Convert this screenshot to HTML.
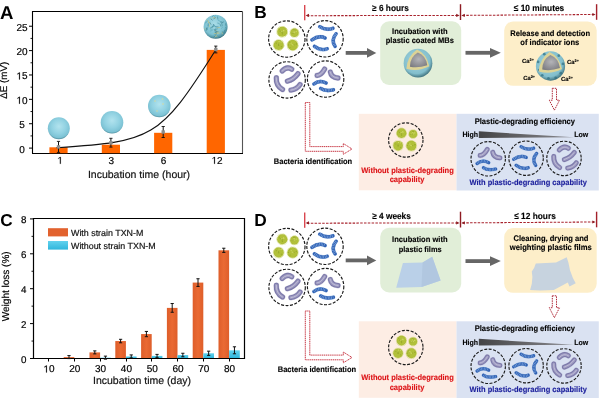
<!DOCTYPE html>
<html><head><meta charset="utf-8"><style>
html,body{margin:0;padding:0;background:#fff;width:600px;height:400px;overflow:hidden}
svg{display:block;will-change:transform}
text{font-family:"Liberation Sans", sans-serif;text-rendering:geometricPrecision}
</style></head><body>
<svg width="600" height="400" viewBox="0 0 600 400">

<defs>
 <radialGradient id="sph" cx="0.5" cy="0.42" r="0.58">
  <stop offset="0" stop-color="#b2e3ee"/>
  <stop offset="0.55" stop-color="#92d2e2"/>
  <stop offset="0.88" stop-color="#7cc2d4"/>
  <stop offset="1" stop-color="#4f8c9c"/>
 </radialGradient>
 <radialGradient id="sph12" cx="0.45" cy="0.38" r="0.64">
  <stop offset="0" stop-color="#a9dde8"/>
  <stop offset="0.7" stop-color="#7cc0d0"/>
  <stop offset="0.92" stop-color="#4a8a9a"/>
  <stop offset="1" stop-color="#2a5c68"/>
 </radialGradient>
 <radialGradient id="core" cx="0.5" cy="0.45" r="0.65">
  <stop offset="0" stop-color="#b4b4b8"/>
  <stop offset="1" stop-color="#7a7a80"/>
 </radialGradient>
 <radialGradient id="shell" cx="0.45" cy="0.4" r="0.62">
  <stop offset="0" stop-color="#a8d8e2"/>
  <stop offset="0.75" stop-color="#82becc"/>
  <stop offset="1" stop-color="#3a6c78"/>
 </radialGradient>
 <radialGradient id="coc" cx="0.5" cy="0.5" r="0.5">
  <stop offset="0" stop-color="#b0bf38"/>
  <stop offset="0.75" stop-color="#b2c13a"/>
  <stop offset="1" stop-color="#a9b834"/>
 </radialGradient>
 <linearGradient id="wedge" x1="0" y1="0" x2="1" y2="0">
  <stop offset="0" stop-color="#444446"/>
  <stop offset="1" stop-color="#8a8a90"/>
 </linearGradient>
 <linearGradient id="cyan" x1="0" y1="0" x2="0" y2="1">
  <stop offset="0" stop-color="#62d2ee"/>
  <stop offset="1" stop-color="#2fb6dc"/>
 </linearGradient>
 <linearGradient id="org" x1="0" y1="0" x2="1" y2="0">
  <stop offset="0" stop-color="#de5e2a"/>
  <stop offset="0.5" stop-color="#ea6a33"/>
  <stop offset="1" stop-color="#de5e2a"/>
 </linearGradient>
</defs>

<rect width="600" height="400" fill="#fff"/>
<text x="0" y="18.7" font-size="18.6" font-weight="bold" fill="#000" text-anchor="start" >A</text><path d="M32.5,153.5 L32.5,11.5 L242.5,11.5" fill="none" stroke="#000" stroke-width="1.1"/><path d="M242.5,11.5 L242.5,153.5" fill="none" stroke="#555" stroke-width="1.1"/><path d="M32,153.5 L243,153.5" stroke="#000" stroke-width="1.2"/><line x1="29" y1="148.1" x2="32.5" y2="148.1" stroke="#000" stroke-width="1"/><text x="22" y="152.5" font-size="10" font-weight="normal" fill="#000" text-anchor="middle" stroke="#000" stroke-width="0.18" >0</text><line x1="29" y1="123.72" x2="32.5" y2="123.72" stroke="#000" stroke-width="1"/><text x="22" y="128.12" font-size="10" font-weight="normal" fill="#000" text-anchor="middle" stroke="#000" stroke-width="0.18" >5</text><line x1="29" y1="99.35" x2="32.5" y2="99.35" stroke="#000" stroke-width="1"/><text x="22" y="103.75" font-size="10" font-weight="normal" fill="#000" text-anchor="middle" stroke="#000" stroke-width="0.18" >&#8199;0</text><path transform="translate(16.44,103.75) scale(0.00488,-0.00488)" d="M530,0 H696 V1409 H540 Q470,1290 197,1150 V1010 Q400,1100 530,1220 Z" fill="#000" stroke="#000" stroke-width="37"/><line x1="29" y1="74.97" x2="32.5" y2="74.97" stroke="#000" stroke-width="1"/><text x="22" y="79.38" font-size="10" font-weight="normal" fill="#000" text-anchor="middle" stroke="#000" stroke-width="0.18" >&#8199;5</text><path transform="translate(16.44,79.38) scale(0.00488,-0.00488)" d="M530,0 H696 V1409 H540 Q470,1290 197,1150 V1010 Q400,1100 530,1220 Z" fill="#000" stroke="#000" stroke-width="37"/><line x1="29" y1="50.6" x2="32.5" y2="50.6" stroke="#000" stroke-width="1"/><text x="22" y="55" font-size="10" font-weight="normal" fill="#000" text-anchor="middle" stroke="#000" stroke-width="0.18" >20</text><line x1="29" y1="26.22" x2="32.5" y2="26.22" stroke="#000" stroke-width="1"/><text x="22" y="30.62" font-size="10" font-weight="normal" fill="#000" text-anchor="middle" stroke="#000" stroke-width="0.18" >25</text><line x1="30.5" y1="135.91" x2="32.5" y2="135.91" stroke="#000" stroke-width="0.9"/><line x1="30.5" y1="111.54" x2="32.5" y2="111.54" stroke="#000" stroke-width="0.9"/><line x1="30.5" y1="87.16" x2="32.5" y2="87.16" stroke="#000" stroke-width="0.9"/><line x1="30.5" y1="62.79" x2="32.5" y2="62.79" stroke="#000" stroke-width="0.9"/><line x1="30.5" y1="38.41" x2="32.5" y2="38.41" stroke="#000" stroke-width="0.9"/><rect x="49.4" y="147.3" width="18.2" height="5.9" fill="#ff6600"/><text x="60.1" y="163.8" font-size="10" font-weight="normal" fill="#000" text-anchor="middle" stroke="#000" stroke-width="0.18" >&#8199;</text><path transform="translate(57.32,163.8) scale(0.00488,-0.00488)" d="M530,0 H696 V1409 H540 Q470,1290 197,1150 V1010 Q400,1100 530,1220 Z" fill="#000" stroke="#000" stroke-width="37"/><rect x="101.8" y="144.7" width="18.2" height="8.5" fill="#ff6600"/><text x="111.2" y="163.8" font-size="10" font-weight="normal" fill="#000" text-anchor="middle" stroke="#000" stroke-width="0.18" >3</text><rect x="154.1" y="132.8" width="18.2" height="20.4" fill="#ff6600"/><text x="163.5" y="163.8" font-size="10" font-weight="normal" fill="#000" text-anchor="middle" stroke="#000" stroke-width="0.18" >6</text><rect x="206.7" y="49.9" width="18.2" height="103.3" fill="#ff6600"/><text x="217.1" y="163.8" font-size="10" font-weight="normal" fill="#000" text-anchor="middle" stroke="#000" stroke-width="0.18" >&#8199;2</text><path transform="translate(211.54,163.8) scale(0.00488,-0.00488)" d="M530,0 H696 V1409 H540 Q470,1290 197,1150 V1010 Q400,1100 530,1220 Z" fill="#000" stroke="#000" stroke-width="37"/><text x="139" y="177.7" font-size="10.5" font-weight="normal" fill="#111" text-anchor="middle" stroke="#111" stroke-width="0.18" >Incubation time (hour)</text><text x="0" y="0" font-size="9.8" font-weight="normal" fill="#000" text-anchor="middle" stroke="#000" stroke-width="0.18" transform="translate(7.1,80.3) rotate(-90)">&#916;E (mV)</text><line x1="58.5" y1="141.4" x2="58.5" y2="152.4" stroke="#111" stroke-width="1"/><line x1="56.9" y1="141.4" x2="60.1" y2="141.4" stroke="#111" stroke-width="0.9"/><line x1="56.9" y1="152.4" x2="60.1" y2="152.4" stroke="#111" stroke-width="0.9"/><line x1="110.9" y1="138.3" x2="110.9" y2="147.1" stroke="#111" stroke-width="1"/><line x1="109.3" y1="138.3" x2="112.5" y2="138.3" stroke="#111" stroke-width="0.9"/><line x1="109.3" y1="147.1" x2="112.5" y2="147.1" stroke="#111" stroke-width="0.9"/><line x1="163.2" y1="126.5" x2="163.2" y2="137.5" stroke="#111" stroke-width="1"/><line x1="161.6" y1="126.5" x2="164.8" y2="126.5" stroke="#111" stroke-width="0.9"/><line x1="161.6" y1="137.5" x2="164.8" y2="137.5" stroke="#111" stroke-width="0.9"/><line x1="215.8" y1="46.1" x2="215.8" y2="52.9" stroke="#111" stroke-width="1"/><line x1="214.2" y1="46.1" x2="217.4" y2="46.1" stroke="#111" stroke-width="0.9"/><line x1="214.2" y1="52.9" x2="217.4" y2="52.9" stroke="#111" stroke-width="0.9"/><path d="M56.5,147.79 C152.09,141.37 159.14,139.8 216,49.5" fill="none" stroke="#111" stroke-width="1.15"/><rect x="56.8" y="145.2" width="3.4" height="3.4" fill="#8c8c8c"/><rect x="109.2" y="141" width="3.4" height="3.4" fill="#8c8c8c"/><rect x="161.5" y="130.3" width="3.4" height="3.4" fill="#8c8c8c"/><rect x="214.1" y="47.8" width="3.4" height="3.4" fill="#8c8c8c"/><circle cx="58.8" cy="128.2" r="11" fill="url(#sph)"/><circle cx="112" cy="122.3" r="11.3" fill="url(#sph)"/><circle cx="159.3" cy="106" r="11.3" fill="url(#sph)"/><circle cx="155" cy="101" r="0.7" fill="#e6d98a"/><circle cx="163" cy="104" r="0.7" fill="#e6d98a"/><circle cx="157" cy="111" r="0.7" fill="#e6d98a"/><circle cx="162.5" cy="99" r="0.7" fill="#e6d98a"/><circle cx="215.6" cy="26.8" r="12" fill="url(#sph12)"/><clipPath id="c12"><circle cx="215.6" cy="26.8" r="11.6"/></clipPath><g clip-path="url(#c12)" fill="none" stroke-linecap="round"><path d="M211.7,19.1 l-0.8,-1.1" stroke="#c9c27e" stroke-width="0.6"/><path d="M206.7,28.6 l1.3,-0.9" stroke="#4a97a8" stroke-width="0.6"/><path d="M214.1,17.3 l1.7,1.1" stroke="#c9c27e" stroke-width="0.6"/><path d="M207.3,20.7 l-2.0,-2.1" stroke="#c9c27e" stroke-width="0.6"/><path d="M217.5,16.9 l0.4,2.2" stroke="#3d8494" stroke-width="0.6"/><path d="M211.0,19.0 l1.3,1.2" stroke="#3d8494" stroke-width="0.6"/><path d="M206.9,28.4 l0.5,1.3" stroke="#4a97a8" stroke-width="0.6"/><path d="M217.0,29.4 l-2.2,0.1" stroke="#5aa8b8" stroke-width="0.6"/><path d="M214.8,36.1 l-1.1,1.3" stroke="#3d8494" stroke-width="0.6"/><path d="M220.0,21.2 l-1.9,-1.0" stroke="#5aa8b8" stroke-width="0.6"/><path d="M220.6,22.1 l1.4,-0.2" stroke="#3a7f90" stroke-width="0.6"/><path d="M208.2,23.3 l1.8,-0.8" stroke="#4a97a8" stroke-width="0.6"/><path d="M221.4,28.4 l1.2,-1.2" stroke="#5aa8b8" stroke-width="0.6"/><path d="M217.7,28.6 l-2.6,0.7" stroke="#5aa8b8" stroke-width="0.6"/><path d="M215.0,30.4 l2.3,0.9" stroke="#c9c27e" stroke-width="0.6"/><path d="M210.9,24.3 l-0.6,-1.1" stroke="#3a7f90" stroke-width="0.6"/><path d="M212.4,29.2 l-1.6,0.1" stroke="#5aa8b8" stroke-width="0.6"/><path d="M207.4,21.2 l-2.1,1.8" stroke="#4a97a8" stroke-width="0.6"/><path d="M208.3,24.6 l-0.3,1.4" stroke="#3a7f90" stroke-width="0.6"/><path d="M223.6,21.9 l-1.6,0.9" stroke="#3a7f90" stroke-width="0.6"/><path d="M208.5,20.9 l0.2,2.1" stroke="#c9c27e" stroke-width="0.6"/><path d="M208.6,22.0 l1.3,1.7" stroke="#c9c27e" stroke-width="0.6"/><path d="M217.1,36.8 l-0.8,-2.0" stroke="#c9c27e" stroke-width="0.6"/><path d="M219.0,32.1 l-2.7,0.7" stroke="#c9c27e" stroke-width="0.6"/><path d="M213.2,24.6 l1.9,1.4" stroke="#4a97a8" stroke-width="0.6"/><path d="M214.3,18.2 l-1.1,-0.8" stroke="#c9c27e" stroke-width="0.6"/><path d="M212.6,16.4 l1.6,-1.6" stroke="#3d8494" stroke-width="0.6"/><path d="M218.6,36.8 l-1.6,-1.2" stroke="#4a97a8" stroke-width="0.6"/><path d="M214.9,26.4 l1.2,0.7" stroke="#5aa8b8" stroke-width="0.6"/><path d="M220.9,26.3 l-0.8,-2.0" stroke="#3d8494" stroke-width="0.6"/><path d="M225.5,27.4 l1.3,1.7" stroke="#4a97a8" stroke-width="0.6"/><path d="M221.3,22.4 l-0.9,-1.1" stroke="#5aa8b8" stroke-width="0.6"/><path d="M216.0,35.8 l-1.0,1.3" stroke="#c9c27e" stroke-width="0.6"/><path d="M221.7,23.1 l0.5,2.6" stroke="#3d8494" stroke-width="0.6"/><path d="M222.3,33.8 l-0.1,-1.6" stroke="#c9c27e" stroke-width="0.6"/><path d="M215.4,31.9 l2.6,-0.2" stroke="#3a7f90" stroke-width="0.6"/><path d="M210.3,31.0 l1.9,-0.5" stroke="#5aa8b8" stroke-width="0.6"/><path d="M225.6,23.8 l0.3,1.6" stroke="#3d8494" stroke-width="0.6"/><path d="M212.0,26.4 l2.3,-0.2" stroke="#4a97a8" stroke-width="0.6"/><path d="M215.1,30.2 l0.4,-1.3" stroke="#4a97a8" stroke-width="0.6"/><path d="M224.6,33.0 l-0.0,-2.1" stroke="#3d8494" stroke-width="0.6"/><path d="M214.1,29.8 l2.5,1.5" stroke="#3a7f90" stroke-width="0.6"/><path d="M214.8,32.2 l1.3,0.8" stroke="#3d8494" stroke-width="0.6"/><path d="M205.2,28.8 l-2.3,0.5" stroke="#c9c27e" stroke-width="0.6"/><path d="M219.1,23.5 l-1.4,-0.4" stroke="#4a97a8" stroke-width="0.6"/><path d="M222.2,31.8 l2.0,1.5" stroke="#3d8494" stroke-width="0.6"/><path d="M214.1,35.0 l0.7,-1.4" stroke="#5aa8b8" stroke-width="0.6"/><path d="M209.3,26.8 l0.1,-1.8" stroke="#c9c27e" stroke-width="0.6"/><path d="M213.8,18.7 l1.5,-1.0" stroke="#3a7f90" stroke-width="0.6"/><path d="M219.2,33.7 l-2.7,-0.3" stroke="#c9c27e" stroke-width="0.6"/><path d="M215.8,35.0 l0.4,-2.3" stroke="#3d8494" stroke-width="0.6"/><path d="M208.4,26.2 l-0.3,-2.2" stroke="#5aa8b8" stroke-width="0.6"/><path d="M219.6,27.5 l-2.6,0.3" stroke="#c9c27e" stroke-width="0.6"/><path d="M214.5,16.4 l1.0,-0.8" stroke="#5aa8b8" stroke-width="0.6"/><path d="M218.1,26.9 l-2.4,-0.2" stroke="#3a7f90" stroke-width="0.6"/><path d="M215.8,33.6 l-1.6,-0.1" stroke="#c9c27e" stroke-width="0.6"/><path d="M210.3,28.1 l2.5,-1.0" stroke="#3d8494" stroke-width="0.6"/><path d="M213.8,24.4 l-1.0,2.2" stroke="#3a7f90" stroke-width="0.6"/><path d="M206.2,30.5 l0.6,-2.8" stroke="#3d8494" stroke-width="0.6"/><path d="M225.3,30.0 l-1.1,1.2" stroke="#3d8494" stroke-width="0.6"/></g><text x="0.3" y="225.6" font-size="17.2" font-weight="bold" fill="#000" text-anchor="start" >C</text><path d="M33.5,358.5 L33.5,218.5 L244.5,218.5 L244.5,358.5 Z" fill="none" stroke="#000" stroke-width="1.2"/><line x1="30" y1="358.5" x2="33.5" y2="358.5" stroke="#000" stroke-width="1"/><text x="23.8" y="362.8" font-size="9.8" font-weight="normal" fill="#000" text-anchor="middle" stroke="#000" stroke-width="0.18" >0</text><line x1="30" y1="323.6" x2="33.5" y2="323.6" stroke="#000" stroke-width="1"/><text x="23.8" y="327.9" font-size="9.8" font-weight="normal" fill="#000" text-anchor="middle" stroke="#000" stroke-width="0.18" >2</text><line x1="30" y1="288.7" x2="33.5" y2="288.7" stroke="#000" stroke-width="1"/><text x="23.8" y="293" font-size="9.8" font-weight="normal" fill="#000" text-anchor="middle" stroke="#000" stroke-width="0.18" >4</text><line x1="30" y1="253.8" x2="33.5" y2="253.8" stroke="#000" stroke-width="1"/><text x="23.8" y="258.1" font-size="9.8" font-weight="normal" fill="#000" text-anchor="middle" stroke="#000" stroke-width="0.18" >6</text><line x1="30" y1="218.9" x2="33.5" y2="218.9" stroke="#000" stroke-width="1"/><text x="23.8" y="223.2" font-size="9.8" font-weight="normal" fill="#000" text-anchor="middle" stroke="#000" stroke-width="0.18" >8</text><line x1="31.5" y1="341.05" x2="33.5" y2="341.05" stroke="#000" stroke-width="0.9"/><line x1="31.5" y1="306.15" x2="33.5" y2="306.15" stroke="#000" stroke-width="0.9"/><line x1="31.5" y1="271.25" x2="33.5" y2="271.25" stroke="#000" stroke-width="0.9"/><line x1="31.5" y1="236.35" x2="33.5" y2="236.35" stroke="#000" stroke-width="0.9"/><line x1="48.5" y1="358.5" x2="48.5" y2="361.5" stroke="#000" stroke-width="1"/><text x="49" y="372.4" font-size="10" font-weight="normal" fill="#000" text-anchor="middle" stroke="#000" stroke-width="0.18" >&#8199;0</text><path transform="translate(43.44,372.4) scale(0.00488,-0.00488)" d="M530,0 H696 V1409 H540 Q470,1290 197,1150 V1010 Q400,1100 530,1220 Z" fill="#000" stroke="#000" stroke-width="37"/><line x1="74.5" y1="358.5" x2="74.5" y2="361.5" stroke="#000" stroke-width="1"/><text x="74.8" y="372.4" font-size="10" font-weight="normal" fill="#000" text-anchor="middle" stroke="#000" stroke-width="0.18" >20</text><rect x="63.7" y="357.1" width="10.6" height="0.9" fill="url(#org)"/><line x1="100.5" y1="358.5" x2="100.5" y2="361.5" stroke="#000" stroke-width="1"/><text x="100.6" y="372.4" font-size="10" font-weight="normal" fill="#000" text-anchor="middle" stroke="#000" stroke-width="0.18" >30</text><rect x="89.5" y="352.39" width="10.6" height="5.61" fill="url(#org)"/><rect x="100.1" y="357.63" width="10.7" height="0.37" fill="url(#cyan)"/><line x1="126.5" y1="358.5" x2="126.5" y2="361.5" stroke="#000" stroke-width="1"/><text x="126.4" y="372.4" font-size="10" font-weight="normal" fill="#000" text-anchor="middle" stroke="#000" stroke-width="0.18" >40</text><rect x="115.3" y="341.05" width="10.6" height="16.95" fill="url(#org)"/><rect x="125.9" y="356.41" width="10.7" height="1.59" fill="url(#cyan)"/><line x1="151.5" y1="358.5" x2="151.5" y2="361.5" stroke="#000" stroke-width="1"/><text x="152.2" y="372.4" font-size="10" font-weight="normal" fill="#000" text-anchor="middle" stroke="#000" stroke-width="0.18" >50</text><rect x="141.1" y="334.07" width="10.6" height="23.93" fill="url(#org)"/><rect x="151.7" y="355.88" width="10.7" height="2.12" fill="url(#cyan)"/><line x1="177.5" y1="358.5" x2="177.5" y2="361.5" stroke="#000" stroke-width="1"/><text x="178" y="372.4" font-size="10" font-weight="normal" fill="#000" text-anchor="middle" stroke="#000" stroke-width="0.18" >60</text><rect x="166.9" y="307.89" width="10.6" height="50.11" fill="url(#org)"/><rect x="177.5" y="355.01" width="10.7" height="2.99" fill="url(#cyan)"/><line x1="203.5" y1="358.5" x2="203.5" y2="361.5" stroke="#000" stroke-width="1"/><text x="203.8" y="372.4" font-size="10" font-weight="normal" fill="#000" text-anchor="middle" stroke="#000" stroke-width="0.18" >70</text><rect x="192.7" y="282.59" width="10.6" height="75.41" fill="url(#org)"/><rect x="203.3" y="353.26" width="10.7" height="4.74" fill="url(#cyan)"/><line x1="229.5" y1="358.5" x2="229.5" y2="361.5" stroke="#000" stroke-width="1"/><text x="229.6" y="372.4" font-size="10" font-weight="normal" fill="#000" text-anchor="middle" stroke="#000" stroke-width="0.18" >80</text><rect x="218.5" y="250.31" width="10.6" height="107.69" fill="url(#org)"/><rect x="229.1" y="350.3" width="10.7" height="7.7" fill="url(#cyan)"/><line x1="69" y1="355.6" x2="69" y2="358.6" stroke="#111" stroke-width="1"/><line x1="67.4" y1="355.6" x2="70.6" y2="355.6" stroke="#111" stroke-width="1"/><line x1="67.4" y1="358.6" x2="70.6" y2="358.6" stroke="#111" stroke-width="1"/><line x1="94.8" y1="350.89" x2="94.8" y2="353.89" stroke="#111" stroke-width="1"/><line x1="93.2" y1="350.89" x2="96.4" y2="350.89" stroke="#111" stroke-width="1"/><line x1="93.2" y1="353.89" x2="96.4" y2="353.89" stroke="#111" stroke-width="1"/><line x1="105.45" y1="356.13" x2="105.45" y2="359.13" stroke="#111" stroke-width="1"/><line x1="103.85" y1="356.13" x2="107.05" y2="356.13" stroke="#111" stroke-width="1"/><line x1="103.85" y1="359.13" x2="107.05" y2="359.13" stroke="#111" stroke-width="1"/><line x1="120.6" y1="339.31" x2="120.6" y2="342.8" stroke="#111" stroke-width="1"/><line x1="119" y1="339.31" x2="122.2" y2="339.31" stroke="#111" stroke-width="1"/><line x1="119" y1="342.8" x2="122.2" y2="342.8" stroke="#111" stroke-width="1"/><line x1="131.25" y1="354.91" x2="131.25" y2="357.91" stroke="#111" stroke-width="1"/><line x1="129.65" y1="354.91" x2="132.85" y2="354.91" stroke="#111" stroke-width="1"/><line x1="129.65" y1="357.91" x2="132.85" y2="357.91" stroke="#111" stroke-width="1"/><line x1="146.4" y1="331.45" x2="146.4" y2="336.69" stroke="#111" stroke-width="1"/><line x1="144.8" y1="331.45" x2="148" y2="331.45" stroke="#111" stroke-width="1"/><line x1="144.8" y1="336.69" x2="148" y2="336.69" stroke="#111" stroke-width="1"/><line x1="157.05" y1="354.38" x2="157.05" y2="357.38" stroke="#111" stroke-width="1"/><line x1="155.45" y1="354.38" x2="158.65" y2="354.38" stroke="#111" stroke-width="1"/><line x1="155.45" y1="357.38" x2="158.65" y2="357.38" stroke="#111" stroke-width="1"/><line x1="172.2" y1="303.53" x2="172.2" y2="312.26" stroke="#111" stroke-width="1"/><line x1="170.6" y1="303.53" x2="173.8" y2="303.53" stroke="#111" stroke-width="1"/><line x1="170.6" y1="312.26" x2="173.8" y2="312.26" stroke="#111" stroke-width="1"/><line x1="182.85" y1="353.26" x2="182.85" y2="356.75" stroke="#111" stroke-width="1"/><line x1="181.25" y1="353.26" x2="184.45" y2="353.26" stroke="#111" stroke-width="1"/><line x1="181.25" y1="356.75" x2="184.45" y2="356.75" stroke="#111" stroke-width="1"/><line x1="198" y1="278.75" x2="198" y2="286.43" stroke="#111" stroke-width="1"/><line x1="196.4" y1="278.75" x2="199.6" y2="278.75" stroke="#111" stroke-width="1"/><line x1="196.4" y1="286.43" x2="199.6" y2="286.43" stroke="#111" stroke-width="1"/><line x1="208.65" y1="351.17" x2="208.65" y2="355.36" stroke="#111" stroke-width="1"/><line x1="207.05" y1="351.17" x2="210.25" y2="351.17" stroke="#111" stroke-width="1"/><line x1="207.05" y1="355.36" x2="210.25" y2="355.36" stroke="#111" stroke-width="1"/><line x1="223.8" y1="248.22" x2="223.8" y2="252.4" stroke="#111" stroke-width="1"/><line x1="222.2" y1="248.22" x2="225.4" y2="248.22" stroke="#111" stroke-width="1"/><line x1="222.2" y1="252.4" x2="225.4" y2="252.4" stroke="#111" stroke-width="1"/><line x1="234.45" y1="346.81" x2="234.45" y2="353.79" stroke="#111" stroke-width="1"/><line x1="232.85" y1="346.81" x2="236.05" y2="346.81" stroke="#111" stroke-width="1"/><line x1="232.85" y1="353.79" x2="236.05" y2="353.79" stroke="#111" stroke-width="1"/><rect x="48" y="228.2" width="20" height="8.2" fill="#e2622e"/><rect x="48" y="241" width="20" height="8.6" fill="url(#cyan)"/><text x="71" y="236" font-size="8.9" font-weight="normal" fill="#111" text-anchor="start" stroke="#111" stroke-width="0.18" >With strain TXN-M</text><text x="71" y="248.6" font-size="8.9" font-weight="normal" fill="#111" text-anchor="start" stroke="#111" stroke-width="0.18" >Without strain TXN-M</text><text x="142" y="383.8" font-size="10.5" font-weight="normal" fill="#111" text-anchor="middle" stroke="#111" stroke-width="0.18" >Incubation time (day)</text><text x="0" y="0" font-size="10" font-weight="normal" fill="#000" text-anchor="middle" stroke="#000" stroke-width="0.18" transform="translate(9.1,286.3) rotate(-90)">Weight loss (%)</text><text x="254.3" y="18.3" font-size="17.3" font-weight="bold" fill="#000" text-anchor="start" >B</text><rect x="304" y="5" width="1.4" height="15.3" fill="#d9464f"/><rect x="459.8" y="4.2" width="1.4" height="15.8" fill="#8e1b22"/><rect x="595.9" y="4.2" width="1.4" height="15.6" fill="#a3212b"/><line x1="307" y1="15.7" x2="458" y2="15.4" stroke="#a8222c" stroke-width="1.05" stroke-dasharray="2.5 1.3"/><line x1="462.5" y1="15.4" x2="594" y2="14.5" stroke="#a8222c" stroke-width="1.05" stroke-dasharray="2.5 1.3"/><path d="M305.6,15.4 L309,13.8 L309,17 Z" fill="#8e1b22"/><path d="M459.6,15.4 L456.2,13.8 L456.2,17 Z" fill="#8e1b22"/><path d="M461.4,15.4 L464.8,13.8 L464.8,17 Z" fill="#8e1b22"/><path d="M595.6,14.5 L592.4,13.1 L592.4,15.9 Z" fill="#8e1b22"/><text transform="translate(390.5,10.8) scale(1,1.07)" font-size="8.3" font-weight="bold" fill="#000" text-anchor="middle" stroke="#000" stroke-width="0.12">&#8805; 6 hours</text><text transform="translate(539,11) scale(1,1.07)" font-size="8.35" font-weight="bold" fill="#000" text-anchor="middle" stroke="#000" stroke-width="0.12">&#8804; 10 minutes</text><g transform="translate(286.8,39)"><circle r="18.2" fill="none" stroke="#1a1a1a" stroke-width="1.15" stroke-dasharray="3 1.5"/><g transform="scale(0.99)"><circle cx="-4.6" cy="-7.3" r="5.3" fill="none" stroke="#cbd56a" stroke-width="1.3" stroke-dasharray="0.6 0.6"/><circle cx="-4.6" cy="-7.3" r="5.1" fill="url(#coc)"/><circle cx="-4.43" cy="-5.13" r="0.6" fill="#98a82c"/><circle cx="-2.96" cy="-8.26" r="0.6" fill="#d2dc6e"/><circle cx="-7.47" cy="-9.53" r="0.6" fill="#98a82c"/><circle cx="-4.65" cy="-6.36" r="0.6" fill="#98a82c"/><circle cx="-6.73" cy="-7.86" r="0.6" fill="#98a82c"/><circle cx="-4.99" cy="-7.76" r="0.6" fill="#d2dc6e"/><circle cx="-3.19" cy="-8.85" r="0.6" fill="#d2dc6e"/><circle cx="-4.72" cy="-7.53" r="0.6" fill="#d2dc6e"/><circle cx="-4.64" cy="-7.18" r="0.6" fill="#98a82c"/><circle cx="7.7" cy="-6.3" r="4.5" fill="none" stroke="#cbd56a" stroke-width="1.3" stroke-dasharray="0.6 0.6"/><circle cx="7.7" cy="-6.3" r="4.3" fill="url(#coc)"/><circle cx="5.43" cy="-5.9" r="0.6" fill="#98a82c"/><circle cx="7.03" cy="-9.17" r="0.6" fill="#98a82c"/><circle cx="7.44" cy="-8.13" r="0.6" fill="#d2dc6e"/><circle cx="7.93" cy="-6.52" r="0.6" fill="#d2dc6e"/><circle cx="6.87" cy="-6.27" r="0.6" fill="#98a82c"/><circle cx="8.19" cy="-8.99" r="0.6" fill="#98a82c"/><circle cx="6.47" cy="-6.35" r="0.6" fill="#98a82c"/><circle cx="6.43" cy="-6.58" r="0.6" fill="#d2dc6e"/><circle cx="9.5" cy="-7.54" r="0.6" fill="#d2dc6e"/><circle cx="-8.2" cy="6.1" r="5.3" fill="none" stroke="#cbd56a" stroke-width="1.3" stroke-dasharray="0.6 0.6"/><circle cx="-8.2" cy="6.1" r="5.1" fill="url(#coc)"/><circle cx="-5.75" cy="2.98" r="0.6" fill="#d2dc6e"/><circle cx="-8.62" cy="4.86" r="0.6" fill="#d2dc6e"/><circle cx="-8.39" cy="5.28" r="0.6" fill="#98a82c"/><circle cx="-8.26" cy="6.35" r="0.6" fill="#98a82c"/><circle cx="-5.48" cy="7.79" r="0.6" fill="#98a82c"/><circle cx="-8.14" cy="6.05" r="0.6" fill="#98a82c"/><circle cx="-7.8" cy="2.63" r="0.6" fill="#d2dc6e"/><circle cx="-10.61" cy="4.24" r="0.6" fill="#98a82c"/><circle cx="-8.46" cy="4.8" r="0.6" fill="#98a82c"/><circle cx="5.9" cy="6.1" r="5.5" fill="none" stroke="#cbd56a" stroke-width="1.3" stroke-dasharray="0.6 0.6"/><circle cx="5.9" cy="6.1" r="5.3" fill="url(#coc)"/><circle cx="1.71" cy="5.96" r="0.6" fill="#98a82c"/><circle cx="6.35" cy="6.12" r="0.6" fill="#d2dc6e"/><circle cx="9.77" cy="4.8" r="0.6" fill="#98a82c"/><circle cx="5.39" cy="5.68" r="0.6" fill="#d2dc6e"/><circle cx="7.32" cy="5.92" r="0.6" fill="#98a82c"/><circle cx="9.54" cy="5.12" r="0.6" fill="#98a82c"/><circle cx="3.29" cy="8.66" r="0.6" fill="#98a82c"/><circle cx="4.35" cy="4.14" r="0.6" fill="#d2dc6e"/><circle cx="3.02" cy="3.4" r="0.6" fill="#98a82c"/></g></g><g transform="translate(325,38.8)"><circle r="18.2" fill="none" stroke="#1a1a1a" stroke-width="1.15" stroke-dasharray="3 1.5"/><g transform="scale(0.99)"><path d="M-5.3,-12.2 Q0.7,-7.95 8,-10.6" fill="none" stroke="#6a9ad8" stroke-width="4" stroke-linecap="round" opacity="0.4"/><path d="M-5.3,-12.2 Q0.7,-7.95 8,-10.6" fill="none" stroke="#2f60b2" stroke-width="3.4" stroke-linecap="round"/><path d="M-5.3,-12.2 Q0.7,-7.95 8,-10.6" fill="none" stroke="#7aa3dd" stroke-width="2.8" stroke-dasharray="0.7 0.9"/><path d="M-13.2,1.1 Q-6,-3.95 0.1,-0.8" fill="none" stroke="#6a9ad8" stroke-width="4" stroke-linecap="round" opacity="0.4"/><path d="M-13.2,1.1 Q-6,-3.95 0.1,-0.8" fill="none" stroke="#2f60b2" stroke-width="3.4" stroke-linecap="round"/><path d="M-13.2,1.1 Q-6,-3.95 0.1,-0.8" fill="none" stroke="#7aa3dd" stroke-width="2.8" stroke-dasharray="0.7 0.9"/><path d="M11.2,-5.1 Q5.8,1.2 10.2,7.7" fill="none" stroke="#6a9ad8" stroke-width="4" stroke-linecap="round" opacity="0.4"/><path d="M11.2,-5.1 Q5.8,1.2 10.2,7.7" fill="none" stroke="#2f60b2" stroke-width="3.4" stroke-linecap="round"/><path d="M11.2,-5.1 Q5.8,1.2 10.2,7.7" fill="none" stroke="#7aa3dd" stroke-width="2.8" stroke-dasharray="0.7 0.9"/><path d="M-10.6,7.6 Q-4.25,12.55 2.2,10.1" fill="none" stroke="#6a9ad8" stroke-width="4" stroke-linecap="round" opacity="0.4"/><path d="M-10.6,7.6 Q-4.25,12.55 2.2,10.1" fill="none" stroke="#2f60b2" stroke-width="3.4" stroke-linecap="round"/><path d="M-10.6,7.6 Q-4.25,12.55 2.2,10.1" fill="none" stroke="#7aa3dd" stroke-width="2.8" stroke-dasharray="0.7 0.9"/></g></g><g transform="translate(287.1,79.9)"><circle r="18.2" fill="none" stroke="#1a1a1a" stroke-width="1.15" stroke-dasharray="3 1.5"/><g transform="scale(0.99)"><path d="M-5,-9 Q-0.05,-14.15 4.7,-10.8" fill="none" stroke="#9d9ac2" stroke-width="5.8" stroke-linecap="round" opacity="0.45"/><path d="M-5,-9 Q-0.05,-14.15 4.7,-10.8" fill="none" stroke="#7a77a8" stroke-width="5" stroke-linecap="round"/><path d="M-5,-9 Q-0.05,-14.15 4.7,-10.8" fill="none" stroke="#9c99c0" stroke-width="3" stroke-linecap="round"/><path d="M-5,-9 Q-0.05,-14.15 4.7,-10.8" fill="none" stroke="#c0bdd8" stroke-width="1" stroke-linecap="round"/><path d="M0.3,1.3 Q6.75,-0.5 11,-6.3" fill="none" stroke="#9d9ac2" stroke-width="5.8" stroke-linecap="round" opacity="0.45"/><path d="M0.3,1.3 Q6.75,-0.5 11,-6.3" fill="none" stroke="#7a77a8" stroke-width="5" stroke-linecap="round"/><path d="M0.3,1.3 Q6.75,-0.5 11,-6.3" fill="none" stroke="#9c99c0" stroke-width="3" stroke-linecap="round"/><path d="M0.3,1.3 Q6.75,-0.5 11,-6.3" fill="none" stroke="#c0bdd8" stroke-width="1" stroke-linecap="round"/><path d="M-10.9,-2.1 Q-11.45,5.8 -4.6,9.7" fill="none" stroke="#9d9ac2" stroke-width="5.8" stroke-linecap="round" opacity="0.45"/><path d="M-10.9,-2.1 Q-11.45,5.8 -4.6,9.7" fill="none" stroke="#7a77a8" stroke-width="5" stroke-linecap="round"/><path d="M-10.9,-2.1 Q-11.45,5.8 -4.6,9.7" fill="none" stroke="#9c99c0" stroke-width="3" stroke-linecap="round"/><path d="M-10.9,-2.1 Q-11.45,5.8 -4.6,9.7" fill="none" stroke="#c0bdd8" stroke-width="1" stroke-linecap="round"/><path d="M3.9,10.3 Q10.1,9.55 13.1,4.7" fill="none" stroke="#9d9ac2" stroke-width="5.8" stroke-linecap="round" opacity="0.45"/><path d="M3.9,10.3 Q10.1,9.55 13.1,4.7" fill="none" stroke="#7a77a8" stroke-width="5" stroke-linecap="round"/><path d="M3.9,10.3 Q10.1,9.55 13.1,4.7" fill="none" stroke="#9c99c0" stroke-width="3" stroke-linecap="round"/><path d="M3.9,10.3 Q10.1,9.55 13.1,4.7" fill="none" stroke="#c0bdd8" stroke-width="1" stroke-linecap="round"/></g></g><g transform="translate(325.6,79)"><circle r="18.2" fill="none" stroke="#1a1a1a" stroke-width="1.15" stroke-dasharray="3 1.5"/><g transform="scale(0.99)"><path d="M-8.6,-3.6 Q-4.6,-3.6 -1,-10" fill="none" stroke="#9d9ac2" stroke-width="5.8" stroke-linecap="round" opacity="0.45"/><path d="M-8.6,-3.6 Q-4.6,-3.6 -1,-10" fill="none" stroke="#7a77a8" stroke-width="5" stroke-linecap="round"/><path d="M-8.6,-3.6 Q-4.6,-3.6 -1,-10" fill="none" stroke="#9c99c0" stroke-width="3" stroke-linecap="round"/><path d="M-8.6,-3.6 Q-4.6,-3.6 -1,-10" fill="none" stroke="#c0bdd8" stroke-width="1" stroke-linecap="round"/><path d="M4.8,-7 Q5.8,-1.4 12.5,-1" fill="none" stroke="#9d9ac2" stroke-width="5.8" stroke-linecap="round" opacity="0.45"/><path d="M4.8,-7 Q5.8,-1.4 12.5,-1" fill="none" stroke="#7a77a8" stroke-width="5" stroke-linecap="round"/><path d="M4.8,-7 Q5.8,-1.4 12.5,-1" fill="none" stroke="#9c99c0" stroke-width="3" stroke-linecap="round"/><path d="M4.8,-7 Q5.8,-1.4 12.5,-1" fill="none" stroke="#c0bdd8" stroke-width="1" stroke-linecap="round"/><path d="M-11.8,5 Q-6.15,0.5 0.5,4.1" fill="none" stroke="#6a9ad8" stroke-width="4" stroke-linecap="round" opacity="0.4"/><path d="M-11.8,5 Q-6.15,0.5 0.5,4.1" fill="none" stroke="#2f60b2" stroke-width="3.4" stroke-linecap="round"/><path d="M-11.8,5 Q-6.15,0.5 0.5,4.1" fill="none" stroke="#7aa3dd" stroke-width="2.8" stroke-dasharray="0.7 0.9"/><path d="M-5,9.5 Q-0.65,12.8 7.9,10.9" fill="none" stroke="#6a9ad8" stroke-width="4" stroke-linecap="round" opacity="0.4"/><path d="M-5,9.5 Q-0.65,12.8 7.9,10.9" fill="none" stroke="#2f60b2" stroke-width="3.4" stroke-linecap="round"/><path d="M-5,9.5 Q-0.65,12.8 7.9,10.9" fill="none" stroke="#7aa3dd" stroke-width="2.8" stroke-dasharray="0.7 0.9"/></g></g><rect x="345.7" y="51" width="21.8" height="3.8" fill="#666"/><path d="M367,48 L376.3,52.9 L367,57.8 Z" fill="#666"/><rect x="465.5" y="50.9" width="25" height="3.8" fill="#666"/><path d="M490,47.9 L500.8,52.8 L490,57.7 Z" fill="#666"/><rect x="380.2" y="21.3" width="81" height="63.7" rx="9" fill="#e1eed8"/><rect x="504.2" y="21.5" width="92.5" height="64.3" rx="9" fill="#fdeec9"/><text transform="translate(419.8,34.3) scale(1,1.07)" font-size="7.57" font-weight="bold" fill="#000" text-anchor="middle" stroke="#000" stroke-width="0.12">Incubation with</text><text transform="translate(419.8,43) scale(1,1.07)" font-size="7.52" font-weight="bold" fill="#000" text-anchor="middle" stroke="#000" stroke-width="0.12">plastic coated MBs</text><g transform="translate(418,63.2) scale(1.01)"><circle r="14.2" fill="url(#shell)"/><path d="M-1,-13.6 Q8.5,-9.5 11.2,3 Q0,8.8 -11.5,5.4 Q-10.5,-7 -1,-13.6 Z" fill="#ddd396"/><path d="M-0.2,-10.6 Q8,-7.5 9.2,2 Q0,5.2 -8,3.4 Q-8,-6 -0.2,-10.6 Z" fill="url(#core)"/></g><text transform="translate(550.2,35.8) scale(1,1.07)" font-size="7.55" font-weight="bold" fill="#000" text-anchor="middle" stroke="#000" stroke-width="0.12">Release and detection</text><text transform="translate(549.8,45.4) scale(1,1.07)" font-size="7.6" font-weight="bold" fill="#000" text-anchor="middle" stroke="#000" stroke-width="0.12">of indicator ions</text><g transform="translate(550.5,66) scale(1.03)"><circle r="14.2" fill="url(#shell)"/><circle cx="-11" cy="4" r="1.3" fill="#2f6d80" opacity="0.7"/><circle cx="-8" cy="9" r="1.3" fill="#2f6d80" opacity="0.7"/><circle cx="-2" cy="12" r="1.3" fill="#2f6d80" opacity="0.7"/><circle cx="5" cy="11.5" r="1.3" fill="#2f6d80" opacity="0.7"/><circle cx="10" cy="7" r="1.3" fill="#2f6d80" opacity="0.7"/><circle cx="12" cy="-2" r="1.3" fill="#2f6d80" opacity="0.7"/><circle cx="-12" cy="-4" r="1.3" fill="#2f6d80" opacity="0.7"/><circle cx="8" cy="-10" r="1.3" fill="#2f6d80" opacity="0.7"/><circle cx="-6" cy="-11.5" r="1.3" fill="#2f6d80" opacity="0.7"/><path d="M-1,-13.6 Q8.5,-9.5 11.2,3 Q0,8.8 -11.5,5.4 Q-10.5,-7 -1,-13.6 Z" fill="#ddd396"/><path d="M-0.2,-10.6 Q8,-7.5 9.2,2 Q0,5.2 -8,3.4 Q-8,-6 -0.2,-10.6 Z" fill="url(#core)"/></g><text x="522" y="62.5" font-size="5.9" font-weight="bold" fill="#000" stroke="#000" stroke-width="0.12">Ca<tspan font-size="3.8" dy="-2">2+</tspan></text><text x="567" y="64.3" font-size="5.9" font-weight="bold" fill="#000" stroke="#000" stroke-width="0.12">Ca<tspan font-size="3.8" dy="-2">2+</tspan></text><text x="523.2" y="80" font-size="5.9" font-weight="bold" fill="#000" stroke="#000" stroke-width="0.12">Ca<tspan font-size="3.8" dy="-2">2+</tspan></text><text x="561" y="80.6" font-size="5.9" font-weight="bold" fill="#000" stroke="#000" stroke-width="0.12">Ca<tspan font-size="3.8" dy="-2">2+</tspan></text><path d="M552.3,88.3 L556.5,88.3 L556.5,100.2 L559.5,100.2 L554.4,110.2 L549.3,100.2 L552.3,100.2 Z" fill="none" stroke="#b02a38" stroke-width="1" stroke-dasharray="1.5 0.9"/><path d="M305.3,102.5 L309.8,102.5 L309.8,146.6 L343.3,146.6 L343.3,143.5 L352,149 L343.3,154.3 L343.3,151.3 L305.3,151.3 Z" fill="none" stroke="#c42c3a" stroke-width="0.95" stroke-dasharray="1.3 0.6"/><text transform="translate(313,163.6) scale(1,1.07)" font-size="7.5" font-weight="bold" fill="#000" text-anchor="middle" stroke="#000" stroke-width="0.12">Bacteria identification</text><rect x="358.8" y="113.8" width="97.7" height="76.5" fill="#fdede4"/><g transform="translate(405.8,140)"><circle r="17.2" fill="none" stroke="#1a1a1a" stroke-width="1.15" stroke-dasharray="3 1.5"/><g transform="scale(0.94)"><circle cx="-4.6" cy="-7.3" r="5.3" fill="none" stroke="#cbd56a" stroke-width="1.3" stroke-dasharray="0.6 0.6"/><circle cx="-4.6" cy="-7.3" r="5.1" fill="url(#coc)"/><circle cx="-4.43" cy="-5.13" r="0.6" fill="#98a82c"/><circle cx="-2.96" cy="-8.26" r="0.6" fill="#d2dc6e"/><circle cx="-7.47" cy="-9.53" r="0.6" fill="#98a82c"/><circle cx="-4.65" cy="-6.36" r="0.6" fill="#98a82c"/><circle cx="-6.73" cy="-7.86" r="0.6" fill="#98a82c"/><circle cx="-4.99" cy="-7.76" r="0.6" fill="#d2dc6e"/><circle cx="-3.19" cy="-8.85" r="0.6" fill="#d2dc6e"/><circle cx="-4.72" cy="-7.53" r="0.6" fill="#d2dc6e"/><circle cx="-4.64" cy="-7.18" r="0.6" fill="#98a82c"/><circle cx="7.7" cy="-6.3" r="4.5" fill="none" stroke="#cbd56a" stroke-width="1.3" stroke-dasharray="0.6 0.6"/><circle cx="7.7" cy="-6.3" r="4.3" fill="url(#coc)"/><circle cx="5.43" cy="-5.9" r="0.6" fill="#98a82c"/><circle cx="7.03" cy="-9.17" r="0.6" fill="#98a82c"/><circle cx="7.44" cy="-8.13" r="0.6" fill="#d2dc6e"/><circle cx="7.93" cy="-6.52" r="0.6" fill="#d2dc6e"/><circle cx="6.87" cy="-6.27" r="0.6" fill="#98a82c"/><circle cx="8.19" cy="-8.99" r="0.6" fill="#98a82c"/><circle cx="6.47" cy="-6.35" r="0.6" fill="#98a82c"/><circle cx="6.43" cy="-6.58" r="0.6" fill="#d2dc6e"/><circle cx="9.5" cy="-7.54" r="0.6" fill="#d2dc6e"/><circle cx="-8.2" cy="6.1" r="5.3" fill="none" stroke="#cbd56a" stroke-width="1.3" stroke-dasharray="0.6 0.6"/><circle cx="-8.2" cy="6.1" r="5.1" fill="url(#coc)"/><circle cx="-5.75" cy="2.98" r="0.6" fill="#d2dc6e"/><circle cx="-8.62" cy="4.86" r="0.6" fill="#d2dc6e"/><circle cx="-8.39" cy="5.28" r="0.6" fill="#98a82c"/><circle cx="-8.26" cy="6.35" r="0.6" fill="#98a82c"/><circle cx="-5.48" cy="7.79" r="0.6" fill="#98a82c"/><circle cx="-8.14" cy="6.05" r="0.6" fill="#98a82c"/><circle cx="-7.8" cy="2.63" r="0.6" fill="#d2dc6e"/><circle cx="-10.61" cy="4.24" r="0.6" fill="#98a82c"/><circle cx="-8.46" cy="4.8" r="0.6" fill="#98a82c"/><circle cx="5.9" cy="6.1" r="5.5" fill="none" stroke="#cbd56a" stroke-width="1.3" stroke-dasharray="0.6 0.6"/><circle cx="5.9" cy="6.1" r="5.3" fill="url(#coc)"/><circle cx="1.71" cy="5.96" r="0.6" fill="#98a82c"/><circle cx="6.35" cy="6.12" r="0.6" fill="#d2dc6e"/><circle cx="9.77" cy="4.8" r="0.6" fill="#98a82c"/><circle cx="5.39" cy="5.68" r="0.6" fill="#d2dc6e"/><circle cx="7.32" cy="5.92" r="0.6" fill="#98a82c"/><circle cx="9.54" cy="5.12" r="0.6" fill="#98a82c"/><circle cx="3.29" cy="8.66" r="0.6" fill="#98a82c"/><circle cx="4.35" cy="4.14" r="0.6" fill="#d2dc6e"/><circle cx="3.02" cy="3.4" r="0.6" fill="#98a82c"/></g></g><text transform="translate(407.5,172.5) scale(1,1.07)" font-size="7.5" font-weight="bold" fill="#dd1418" text-anchor="middle" stroke="#dd1418" stroke-width="0.12">Without plastic-degrading</text><text transform="translate(407,182) scale(1,1.07)" font-size="7.5" font-weight="bold" fill="#dd1418" text-anchor="middle" stroke="#dd1418" stroke-width="0.12">capability</text><rect x="456.5" y="113.8" width="142.3" height="76.7" fill="#dae2f2"/><text transform="translate(524.8,123.9) scale(1,1.07)" font-size="7.55" font-weight="bold" fill="#000" text-anchor="middle" stroke="#000" stroke-width="0.12">Plastic-degrading efficiency</text><text transform="translate(462.5,137) scale(1,1.07)" font-size="7" font-weight="bold" fill="#000" text-anchor="start" stroke="#000" stroke-width="0.12">High</text><text transform="translate(574.2,137) scale(1,1.07)" font-size="7" font-weight="bold" fill="#000" text-anchor="start" stroke="#000" stroke-width="0.12">Low</text><path d="M478.8,131.3 L574,137.3 L478.8,138 Z" fill="url(#wedge)"/><g transform="translate(488.2,158.8)"><circle r="17.2" fill="none" stroke="#1a1a1a" stroke-width="1.15" stroke-dasharray="3 1.5"/><g transform="scale(0.94)"><path d="M-8.6,-3.6 Q-4.6,-3.6 -1,-10" fill="none" stroke="#9d9ac2" stroke-width="5.8" stroke-linecap="round" opacity="0.45"/><path d="M-8.6,-3.6 Q-4.6,-3.6 -1,-10" fill="none" stroke="#7a77a8" stroke-width="5" stroke-linecap="round"/><path d="M-8.6,-3.6 Q-4.6,-3.6 -1,-10" fill="none" stroke="#9c99c0" stroke-width="3" stroke-linecap="round"/><path d="M-8.6,-3.6 Q-4.6,-3.6 -1,-10" fill="none" stroke="#c0bdd8" stroke-width="1" stroke-linecap="round"/><path d="M4.8,-7 Q5.8,-1.4 12.5,-1" fill="none" stroke="#9d9ac2" stroke-width="5.8" stroke-linecap="round" opacity="0.45"/><path d="M4.8,-7 Q5.8,-1.4 12.5,-1" fill="none" stroke="#7a77a8" stroke-width="5" stroke-linecap="round"/><path d="M4.8,-7 Q5.8,-1.4 12.5,-1" fill="none" stroke="#9c99c0" stroke-width="3" stroke-linecap="round"/><path d="M4.8,-7 Q5.8,-1.4 12.5,-1" fill="none" stroke="#c0bdd8" stroke-width="1" stroke-linecap="round"/><path d="M-11.8,5 Q-6.15,0.5 0.5,4.1" fill="none" stroke="#6a9ad8" stroke-width="4" stroke-linecap="round" opacity="0.4"/><path d="M-11.8,5 Q-6.15,0.5 0.5,4.1" fill="none" stroke="#2f60b2" stroke-width="3.4" stroke-linecap="round"/><path d="M-11.8,5 Q-6.15,0.5 0.5,4.1" fill="none" stroke="#7aa3dd" stroke-width="2.8" stroke-dasharray="0.7 0.9"/><path d="M-5,9.5 Q-0.65,12.8 7.9,10.9" fill="none" stroke="#6a9ad8" stroke-width="4" stroke-linecap="round" opacity="0.4"/><path d="M-5,9.5 Q-0.65,12.8 7.9,10.9" fill="none" stroke="#2f60b2" stroke-width="3.4" stroke-linecap="round"/><path d="M-5,9.5 Q-0.65,12.8 7.9,10.9" fill="none" stroke="#7aa3dd" stroke-width="2.8" stroke-dasharray="0.7 0.9"/></g></g><g transform="translate(526.1,158.2)"><circle r="17.2" fill="none" stroke="#1a1a1a" stroke-width="1.15" stroke-dasharray="3 1.5"/><g transform="scale(0.94)"><path d="M-5.3,-12.2 Q0.7,-7.95 8,-10.6" fill="none" stroke="#6a9ad8" stroke-width="4" stroke-linecap="round" opacity="0.4"/><path d="M-5.3,-12.2 Q0.7,-7.95 8,-10.6" fill="none" stroke="#2f60b2" stroke-width="3.4" stroke-linecap="round"/><path d="M-5.3,-12.2 Q0.7,-7.95 8,-10.6" fill="none" stroke="#7aa3dd" stroke-width="2.8" stroke-dasharray="0.7 0.9"/><path d="M-13.2,1.1 Q-6,-3.95 0.1,-0.8" fill="none" stroke="#6a9ad8" stroke-width="4" stroke-linecap="round" opacity="0.4"/><path d="M-13.2,1.1 Q-6,-3.95 0.1,-0.8" fill="none" stroke="#2f60b2" stroke-width="3.4" stroke-linecap="round"/><path d="M-13.2,1.1 Q-6,-3.95 0.1,-0.8" fill="none" stroke="#7aa3dd" stroke-width="2.8" stroke-dasharray="0.7 0.9"/><path d="M11.2,-5.1 Q5.8,1.2 10.2,7.7" fill="none" stroke="#6a9ad8" stroke-width="4" stroke-linecap="round" opacity="0.4"/><path d="M11.2,-5.1 Q5.8,1.2 10.2,7.7" fill="none" stroke="#2f60b2" stroke-width="3.4" stroke-linecap="round"/><path d="M11.2,-5.1 Q5.8,1.2 10.2,7.7" fill="none" stroke="#7aa3dd" stroke-width="2.8" stroke-dasharray="0.7 0.9"/><path d="M-10.6,7.6 Q-4.25,12.55 2.2,10.1" fill="none" stroke="#6a9ad8" stroke-width="4" stroke-linecap="round" opacity="0.4"/><path d="M-10.6,7.6 Q-4.25,12.55 2.2,10.1" fill="none" stroke="#2f60b2" stroke-width="3.4" stroke-linecap="round"/><path d="M-10.6,7.6 Q-4.25,12.55 2.2,10.1" fill="none" stroke="#7aa3dd" stroke-width="2.8" stroke-dasharray="0.7 0.9"/></g></g><g transform="translate(564,158.4)"><circle r="17.2" fill="none" stroke="#1a1a1a" stroke-width="1.15" stroke-dasharray="3 1.5"/><g transform="scale(0.94)"><path d="M-5,-9 Q-0.05,-14.15 4.7,-10.8" fill="none" stroke="#9d9ac2" stroke-width="5.8" stroke-linecap="round" opacity="0.45"/><path d="M-5,-9 Q-0.05,-14.15 4.7,-10.8" fill="none" stroke="#7a77a8" stroke-width="5" stroke-linecap="round"/><path d="M-5,-9 Q-0.05,-14.15 4.7,-10.8" fill="none" stroke="#9c99c0" stroke-width="3" stroke-linecap="round"/><path d="M-5,-9 Q-0.05,-14.15 4.7,-10.8" fill="none" stroke="#c0bdd8" stroke-width="1" stroke-linecap="round"/><path d="M0.3,1.3 Q6.75,-0.5 11,-6.3" fill="none" stroke="#9d9ac2" stroke-width="5.8" stroke-linecap="round" opacity="0.45"/><path d="M0.3,1.3 Q6.75,-0.5 11,-6.3" fill="none" stroke="#7a77a8" stroke-width="5" stroke-linecap="round"/><path d="M0.3,1.3 Q6.75,-0.5 11,-6.3" fill="none" stroke="#9c99c0" stroke-width="3" stroke-linecap="round"/><path d="M0.3,1.3 Q6.75,-0.5 11,-6.3" fill="none" stroke="#c0bdd8" stroke-width="1" stroke-linecap="round"/><path d="M-10.9,-2.1 Q-11.45,5.8 -4.6,9.7" fill="none" stroke="#9d9ac2" stroke-width="5.8" stroke-linecap="round" opacity="0.45"/><path d="M-10.9,-2.1 Q-11.45,5.8 -4.6,9.7" fill="none" stroke="#7a77a8" stroke-width="5" stroke-linecap="round"/><path d="M-10.9,-2.1 Q-11.45,5.8 -4.6,9.7" fill="none" stroke="#9c99c0" stroke-width="3" stroke-linecap="round"/><path d="M-10.9,-2.1 Q-11.45,5.8 -4.6,9.7" fill="none" stroke="#c0bdd8" stroke-width="1" stroke-linecap="round"/><path d="M3.9,10.3 Q10.1,9.55 13.1,4.7" fill="none" stroke="#9d9ac2" stroke-width="5.8" stroke-linecap="round" opacity="0.45"/><path d="M3.9,10.3 Q10.1,9.55 13.1,4.7" fill="none" stroke="#7a77a8" stroke-width="5" stroke-linecap="round"/><path d="M3.9,10.3 Q10.1,9.55 13.1,4.7" fill="none" stroke="#9c99c0" stroke-width="3" stroke-linecap="round"/><path d="M3.9,10.3 Q10.1,9.55 13.1,4.7" fill="none" stroke="#c0bdd8" stroke-width="1" stroke-linecap="round"/></g></g><text transform="translate(528.2,184.8) scale(1,1.07)" font-size="7.5" font-weight="bold" fill="#1b1f9c" text-anchor="middle" stroke="#1b1f9c" stroke-width="0.12">With plastic-degrading capability</text><text x="254.3" y="225.8" font-size="17.3" font-weight="bold" fill="#000" text-anchor="start" >D</text><rect x="304" y="212.5" width="1.4" height="15.3" fill="#d9464f"/><rect x="459.8" y="211.7" width="1.4" height="15.8" fill="#8e1b22"/><rect x="595.9" y="211.7" width="1.4" height="15.6" fill="#a3212b"/><line x1="307" y1="223.2" x2="458" y2="222.9" stroke="#a8222c" stroke-width="1.05" stroke-dasharray="2.5 1.3"/><line x1="462.5" y1="222.9" x2="594" y2="222" stroke="#a8222c" stroke-width="1.05" stroke-dasharray="2.5 1.3"/><path d="M305.6,222.9 L309,221.3 L309,224.5 Z" fill="#8e1b22"/><path d="M459.6,222.9 L456.2,221.3 L456.2,224.5 Z" fill="#8e1b22"/><path d="M461.4,222.9 L464.8,221.3 L464.8,224.5 Z" fill="#8e1b22"/><path d="M595.6,222 L592.4,220.6 L592.4,223.4 Z" fill="#8e1b22"/><text transform="translate(391.5,218.8) scale(1,1.07)" font-size="8.3" font-weight="bold" fill="#000" text-anchor="middle" stroke="#000" stroke-width="0.12">&#8805; 4 weeks</text><text transform="translate(535,219) scale(1,1.07)" font-size="8.35" font-weight="bold" fill="#000" text-anchor="middle" stroke="#000" stroke-width="0.12">&#8804; 12 hours</text><g transform="translate(286.8,246.5)"><circle r="18.2" fill="none" stroke="#1a1a1a" stroke-width="1.15" stroke-dasharray="3 1.5"/><g transform="scale(0.99)"><circle cx="-4.6" cy="-7.3" r="5.3" fill="none" stroke="#cbd56a" stroke-width="1.3" stroke-dasharray="0.6 0.6"/><circle cx="-4.6" cy="-7.3" r="5.1" fill="url(#coc)"/><circle cx="-4.43" cy="-5.13" r="0.6" fill="#98a82c"/><circle cx="-2.96" cy="-8.26" r="0.6" fill="#d2dc6e"/><circle cx="-7.47" cy="-9.53" r="0.6" fill="#98a82c"/><circle cx="-4.65" cy="-6.36" r="0.6" fill="#98a82c"/><circle cx="-6.73" cy="-7.86" r="0.6" fill="#98a82c"/><circle cx="-4.99" cy="-7.76" r="0.6" fill="#d2dc6e"/><circle cx="-3.19" cy="-8.85" r="0.6" fill="#d2dc6e"/><circle cx="-4.72" cy="-7.53" r="0.6" fill="#d2dc6e"/><circle cx="-4.64" cy="-7.18" r="0.6" fill="#98a82c"/><circle cx="7.7" cy="-6.3" r="4.5" fill="none" stroke="#cbd56a" stroke-width="1.3" stroke-dasharray="0.6 0.6"/><circle cx="7.7" cy="-6.3" r="4.3" fill="url(#coc)"/><circle cx="5.43" cy="-5.9" r="0.6" fill="#98a82c"/><circle cx="7.03" cy="-9.17" r="0.6" fill="#98a82c"/><circle cx="7.44" cy="-8.13" r="0.6" fill="#d2dc6e"/><circle cx="7.93" cy="-6.52" r="0.6" fill="#d2dc6e"/><circle cx="6.87" cy="-6.27" r="0.6" fill="#98a82c"/><circle cx="8.19" cy="-8.99" r="0.6" fill="#98a82c"/><circle cx="6.47" cy="-6.35" r="0.6" fill="#98a82c"/><circle cx="6.43" cy="-6.58" r="0.6" fill="#d2dc6e"/><circle cx="9.5" cy="-7.54" r="0.6" fill="#d2dc6e"/><circle cx="-8.2" cy="6.1" r="5.3" fill="none" stroke="#cbd56a" stroke-width="1.3" stroke-dasharray="0.6 0.6"/><circle cx="-8.2" cy="6.1" r="5.1" fill="url(#coc)"/><circle cx="-5.75" cy="2.98" r="0.6" fill="#d2dc6e"/><circle cx="-8.62" cy="4.86" r="0.6" fill="#d2dc6e"/><circle cx="-8.39" cy="5.28" r="0.6" fill="#98a82c"/><circle cx="-8.26" cy="6.35" r="0.6" fill="#98a82c"/><circle cx="-5.48" cy="7.79" r="0.6" fill="#98a82c"/><circle cx="-8.14" cy="6.05" r="0.6" fill="#98a82c"/><circle cx="-7.8" cy="2.63" r="0.6" fill="#d2dc6e"/><circle cx="-10.61" cy="4.24" r="0.6" fill="#98a82c"/><circle cx="-8.46" cy="4.8" r="0.6" fill="#98a82c"/><circle cx="5.9" cy="6.1" r="5.5" fill="none" stroke="#cbd56a" stroke-width="1.3" stroke-dasharray="0.6 0.6"/><circle cx="5.9" cy="6.1" r="5.3" fill="url(#coc)"/><circle cx="1.71" cy="5.96" r="0.6" fill="#98a82c"/><circle cx="6.35" cy="6.12" r="0.6" fill="#d2dc6e"/><circle cx="9.77" cy="4.8" r="0.6" fill="#98a82c"/><circle cx="5.39" cy="5.68" r="0.6" fill="#d2dc6e"/><circle cx="7.32" cy="5.92" r="0.6" fill="#98a82c"/><circle cx="9.54" cy="5.12" r="0.6" fill="#98a82c"/><circle cx="3.29" cy="8.66" r="0.6" fill="#98a82c"/><circle cx="4.35" cy="4.14" r="0.6" fill="#d2dc6e"/><circle cx="3.02" cy="3.4" r="0.6" fill="#98a82c"/></g></g><g transform="translate(325,246.3)"><circle r="18.2" fill="none" stroke="#1a1a1a" stroke-width="1.15" stroke-dasharray="3 1.5"/><g transform="scale(0.99)"><path d="M-5.3,-12.2 Q0.7,-7.95 8,-10.6" fill="none" stroke="#6a9ad8" stroke-width="4" stroke-linecap="round" opacity="0.4"/><path d="M-5.3,-12.2 Q0.7,-7.95 8,-10.6" fill="none" stroke="#2f60b2" stroke-width="3.4" stroke-linecap="round"/><path d="M-5.3,-12.2 Q0.7,-7.95 8,-10.6" fill="none" stroke="#7aa3dd" stroke-width="2.8" stroke-dasharray="0.7 0.9"/><path d="M-13.2,1.1 Q-6,-3.95 0.1,-0.8" fill="none" stroke="#6a9ad8" stroke-width="4" stroke-linecap="round" opacity="0.4"/><path d="M-13.2,1.1 Q-6,-3.95 0.1,-0.8" fill="none" stroke="#2f60b2" stroke-width="3.4" stroke-linecap="round"/><path d="M-13.2,1.1 Q-6,-3.95 0.1,-0.8" fill="none" stroke="#7aa3dd" stroke-width="2.8" stroke-dasharray="0.7 0.9"/><path d="M11.2,-5.1 Q5.8,1.2 10.2,7.7" fill="none" stroke="#6a9ad8" stroke-width="4" stroke-linecap="round" opacity="0.4"/><path d="M11.2,-5.1 Q5.8,1.2 10.2,7.7" fill="none" stroke="#2f60b2" stroke-width="3.4" stroke-linecap="round"/><path d="M11.2,-5.1 Q5.8,1.2 10.2,7.7" fill="none" stroke="#7aa3dd" stroke-width="2.8" stroke-dasharray="0.7 0.9"/><path d="M-10.6,7.6 Q-4.25,12.55 2.2,10.1" fill="none" stroke="#6a9ad8" stroke-width="4" stroke-linecap="round" opacity="0.4"/><path d="M-10.6,7.6 Q-4.25,12.55 2.2,10.1" fill="none" stroke="#2f60b2" stroke-width="3.4" stroke-linecap="round"/><path d="M-10.6,7.6 Q-4.25,12.55 2.2,10.1" fill="none" stroke="#7aa3dd" stroke-width="2.8" stroke-dasharray="0.7 0.9"/></g></g><g transform="translate(287.1,287.4)"><circle r="18.2" fill="none" stroke="#1a1a1a" stroke-width="1.15" stroke-dasharray="3 1.5"/><g transform="scale(0.99)"><path d="M-5,-9 Q-0.05,-14.15 4.7,-10.8" fill="none" stroke="#9d9ac2" stroke-width="5.8" stroke-linecap="round" opacity="0.45"/><path d="M-5,-9 Q-0.05,-14.15 4.7,-10.8" fill="none" stroke="#7a77a8" stroke-width="5" stroke-linecap="round"/><path d="M-5,-9 Q-0.05,-14.15 4.7,-10.8" fill="none" stroke="#9c99c0" stroke-width="3" stroke-linecap="round"/><path d="M-5,-9 Q-0.05,-14.15 4.7,-10.8" fill="none" stroke="#c0bdd8" stroke-width="1" stroke-linecap="round"/><path d="M0.3,1.3 Q6.75,-0.5 11,-6.3" fill="none" stroke="#9d9ac2" stroke-width="5.8" stroke-linecap="round" opacity="0.45"/><path d="M0.3,1.3 Q6.75,-0.5 11,-6.3" fill="none" stroke="#7a77a8" stroke-width="5" stroke-linecap="round"/><path d="M0.3,1.3 Q6.75,-0.5 11,-6.3" fill="none" stroke="#9c99c0" stroke-width="3" stroke-linecap="round"/><path d="M0.3,1.3 Q6.75,-0.5 11,-6.3" fill="none" stroke="#c0bdd8" stroke-width="1" stroke-linecap="round"/><path d="M-10.9,-2.1 Q-11.45,5.8 -4.6,9.7" fill="none" stroke="#9d9ac2" stroke-width="5.8" stroke-linecap="round" opacity="0.45"/><path d="M-10.9,-2.1 Q-11.45,5.8 -4.6,9.7" fill="none" stroke="#7a77a8" stroke-width="5" stroke-linecap="round"/><path d="M-10.9,-2.1 Q-11.45,5.8 -4.6,9.7" fill="none" stroke="#9c99c0" stroke-width="3" stroke-linecap="round"/><path d="M-10.9,-2.1 Q-11.45,5.8 -4.6,9.7" fill="none" stroke="#c0bdd8" stroke-width="1" stroke-linecap="round"/><path d="M3.9,10.3 Q10.1,9.55 13.1,4.7" fill="none" stroke="#9d9ac2" stroke-width="5.8" stroke-linecap="round" opacity="0.45"/><path d="M3.9,10.3 Q10.1,9.55 13.1,4.7" fill="none" stroke="#7a77a8" stroke-width="5" stroke-linecap="round"/><path d="M3.9,10.3 Q10.1,9.55 13.1,4.7" fill="none" stroke="#9c99c0" stroke-width="3" stroke-linecap="round"/><path d="M3.9,10.3 Q10.1,9.55 13.1,4.7" fill="none" stroke="#c0bdd8" stroke-width="1" stroke-linecap="round"/></g></g><g transform="translate(325.6,286.5)"><circle r="18.2" fill="none" stroke="#1a1a1a" stroke-width="1.15" stroke-dasharray="3 1.5"/><g transform="scale(0.99)"><path d="M-8.6,-3.6 Q-4.6,-3.6 -1,-10" fill="none" stroke="#9d9ac2" stroke-width="5.8" stroke-linecap="round" opacity="0.45"/><path d="M-8.6,-3.6 Q-4.6,-3.6 -1,-10" fill="none" stroke="#7a77a8" stroke-width="5" stroke-linecap="round"/><path d="M-8.6,-3.6 Q-4.6,-3.6 -1,-10" fill="none" stroke="#9c99c0" stroke-width="3" stroke-linecap="round"/><path d="M-8.6,-3.6 Q-4.6,-3.6 -1,-10" fill="none" stroke="#c0bdd8" stroke-width="1" stroke-linecap="round"/><path d="M4.8,-7 Q5.8,-1.4 12.5,-1" fill="none" stroke="#9d9ac2" stroke-width="5.8" stroke-linecap="round" opacity="0.45"/><path d="M4.8,-7 Q5.8,-1.4 12.5,-1" fill="none" stroke="#7a77a8" stroke-width="5" stroke-linecap="round"/><path d="M4.8,-7 Q5.8,-1.4 12.5,-1" fill="none" stroke="#9c99c0" stroke-width="3" stroke-linecap="round"/><path d="M4.8,-7 Q5.8,-1.4 12.5,-1" fill="none" stroke="#c0bdd8" stroke-width="1" stroke-linecap="round"/><path d="M-11.8,5 Q-6.15,0.5 0.5,4.1" fill="none" stroke="#6a9ad8" stroke-width="4" stroke-linecap="round" opacity="0.4"/><path d="M-11.8,5 Q-6.15,0.5 0.5,4.1" fill="none" stroke="#2f60b2" stroke-width="3.4" stroke-linecap="round"/><path d="M-11.8,5 Q-6.15,0.5 0.5,4.1" fill="none" stroke="#7aa3dd" stroke-width="2.8" stroke-dasharray="0.7 0.9"/><path d="M-5,9.5 Q-0.65,12.8 7.9,10.9" fill="none" stroke="#6a9ad8" stroke-width="4" stroke-linecap="round" opacity="0.4"/><path d="M-5,9.5 Q-0.65,12.8 7.9,10.9" fill="none" stroke="#2f60b2" stroke-width="3.4" stroke-linecap="round"/><path d="M-5,9.5 Q-0.65,12.8 7.9,10.9" fill="none" stroke="#7aa3dd" stroke-width="2.8" stroke-dasharray="0.7 0.9"/></g></g><rect x="345.7" y="258.5" width="21.8" height="3.8" fill="#666"/><path d="M367,255.5 L376.3,260.4 L367,265.3 Z" fill="#666"/><rect x="465.5" y="259.2" width="25" height="3.8" fill="#666"/><path d="M490,256.2 L500.8,261.1 L490,266 Z" fill="#666"/><rect x="380.2" y="227.8" width="81" height="64.7" rx="9" fill="#e1eed8"/><rect x="504.2" y="228" width="92.5" height="64.8" rx="9" fill="#fdeec9"/><text transform="translate(419.8,241.8) scale(1,1.07)" font-size="7.57" font-weight="bold" fill="#000" text-anchor="middle" stroke="#000" stroke-width="0.12">Incubation with</text><text transform="translate(420.2,251.7) scale(1,1.07)" font-size="7.45" font-weight="bold" fill="#000" text-anchor="middle" stroke="#000" stroke-width="0.12">plastic films</text><path d="M402.9,262.9 L422.6,262.4 L432.2,256.8 L440.6,280.4 L421.5,287.1 L396.2,287.7 Z" fill="#bad0e8"/><path d="M422.6,262.4 L432.2,256.8 L440.6,280.4 L421.5,287.1 Z" fill="#b1c7e0"/><text transform="translate(551,241.1) scale(1,1.07)" font-size="7.58" font-weight="bold" fill="#000" text-anchor="middle" stroke="#000" stroke-width="0.12">Cleaning, drying and</text><text transform="translate(550.8,250.4) scale(1,1.07)" font-size="7.65" font-weight="bold" fill="#000" text-anchor="middle" stroke="#000" stroke-width="0.12">weighting plastic films</text><path d="M535.8,263.5 L545.9,262.9 L556,262.4 L566.7,257.3 L568.4,262.4 L570,270.3 L572.9,278.1 L575.7,283.2 L569.5,286.6 L567.8,282.6 L559.4,287.1 L553.8,290 L540.3,290.5 L530.1,289.9 L531.8,283.8 L532.4,277 L531.8,271.4 L534.1,268 Z" fill="#c7d3df"/><path d="M552.3,295.8 L556.5,295.8 L556.5,307.7 L559.5,307.7 L554.4,317.7 L549.3,307.7 L552.3,307.7 Z" fill="none" stroke="#b02a38" stroke-width="1" stroke-dasharray="1.5 0.9"/><path d="M305.3,311 L309.8,311 L309.8,355.1 L343.3,355.1 L343.3,352 L352,357.5 L343.3,362.8 L343.3,359.8 L305.3,359.8 Z" fill="none" stroke="#c42c3a" stroke-width="0.95" stroke-dasharray="1.3 0.6"/><text transform="translate(316.9,371.7) scale(1,1.07)" font-size="7.5" font-weight="bold" fill="#000" text-anchor="middle" stroke="#000" stroke-width="0.12">Bacteria identification</text><rect x="358.8" y="321.3" width="97.7" height="76.5" fill="#fdede4"/><g transform="translate(405.8,347.5)"><circle r="17.2" fill="none" stroke="#1a1a1a" stroke-width="1.15" stroke-dasharray="3 1.5"/><g transform="scale(0.94)"><circle cx="-4.6" cy="-7.3" r="5.3" fill="none" stroke="#cbd56a" stroke-width="1.3" stroke-dasharray="0.6 0.6"/><circle cx="-4.6" cy="-7.3" r="5.1" fill="url(#coc)"/><circle cx="-4.43" cy="-5.13" r="0.6" fill="#98a82c"/><circle cx="-2.96" cy="-8.26" r="0.6" fill="#d2dc6e"/><circle cx="-7.47" cy="-9.53" r="0.6" fill="#98a82c"/><circle cx="-4.65" cy="-6.36" r="0.6" fill="#98a82c"/><circle cx="-6.73" cy="-7.86" r="0.6" fill="#98a82c"/><circle cx="-4.99" cy="-7.76" r="0.6" fill="#d2dc6e"/><circle cx="-3.19" cy="-8.85" r="0.6" fill="#d2dc6e"/><circle cx="-4.72" cy="-7.53" r="0.6" fill="#d2dc6e"/><circle cx="-4.64" cy="-7.18" r="0.6" fill="#98a82c"/><circle cx="7.7" cy="-6.3" r="4.5" fill="none" stroke="#cbd56a" stroke-width="1.3" stroke-dasharray="0.6 0.6"/><circle cx="7.7" cy="-6.3" r="4.3" fill="url(#coc)"/><circle cx="5.43" cy="-5.9" r="0.6" fill="#98a82c"/><circle cx="7.03" cy="-9.17" r="0.6" fill="#98a82c"/><circle cx="7.44" cy="-8.13" r="0.6" fill="#d2dc6e"/><circle cx="7.93" cy="-6.52" r="0.6" fill="#d2dc6e"/><circle cx="6.87" cy="-6.27" r="0.6" fill="#98a82c"/><circle cx="8.19" cy="-8.99" r="0.6" fill="#98a82c"/><circle cx="6.47" cy="-6.35" r="0.6" fill="#98a82c"/><circle cx="6.43" cy="-6.58" r="0.6" fill="#d2dc6e"/><circle cx="9.5" cy="-7.54" r="0.6" fill="#d2dc6e"/><circle cx="-8.2" cy="6.1" r="5.3" fill="none" stroke="#cbd56a" stroke-width="1.3" stroke-dasharray="0.6 0.6"/><circle cx="-8.2" cy="6.1" r="5.1" fill="url(#coc)"/><circle cx="-5.75" cy="2.98" r="0.6" fill="#d2dc6e"/><circle cx="-8.62" cy="4.86" r="0.6" fill="#d2dc6e"/><circle cx="-8.39" cy="5.28" r="0.6" fill="#98a82c"/><circle cx="-8.26" cy="6.35" r="0.6" fill="#98a82c"/><circle cx="-5.48" cy="7.79" r="0.6" fill="#98a82c"/><circle cx="-8.14" cy="6.05" r="0.6" fill="#98a82c"/><circle cx="-7.8" cy="2.63" r="0.6" fill="#d2dc6e"/><circle cx="-10.61" cy="4.24" r="0.6" fill="#98a82c"/><circle cx="-8.46" cy="4.8" r="0.6" fill="#98a82c"/><circle cx="5.9" cy="6.1" r="5.5" fill="none" stroke="#cbd56a" stroke-width="1.3" stroke-dasharray="0.6 0.6"/><circle cx="5.9" cy="6.1" r="5.3" fill="url(#coc)"/><circle cx="1.71" cy="5.96" r="0.6" fill="#98a82c"/><circle cx="6.35" cy="6.12" r="0.6" fill="#d2dc6e"/><circle cx="9.77" cy="4.8" r="0.6" fill="#98a82c"/><circle cx="5.39" cy="5.68" r="0.6" fill="#d2dc6e"/><circle cx="7.32" cy="5.92" r="0.6" fill="#98a82c"/><circle cx="9.54" cy="5.12" r="0.6" fill="#98a82c"/><circle cx="3.29" cy="8.66" r="0.6" fill="#98a82c"/><circle cx="4.35" cy="4.14" r="0.6" fill="#d2dc6e"/><circle cx="3.02" cy="3.4" r="0.6" fill="#98a82c"/></g></g><text transform="translate(407.5,380) scale(1,1.07)" font-size="7.5" font-weight="bold" fill="#dd1418" text-anchor="middle" stroke="#dd1418" stroke-width="0.12">Without plastic-degrading</text><text transform="translate(407,389.5) scale(1,1.07)" font-size="7.5" font-weight="bold" fill="#dd1418" text-anchor="middle" stroke="#dd1418" stroke-width="0.12">capability</text><rect x="456.5" y="321.3" width="142.3" height="76.7" fill="#dae2f2"/><text transform="translate(524.8,331.4) scale(1,1.07)" font-size="7.55" font-weight="bold" fill="#000" text-anchor="middle" stroke="#000" stroke-width="0.12">Plastic-degrading efficiency</text><text transform="translate(462.5,344.5) scale(1,1.07)" font-size="7" font-weight="bold" fill="#000" text-anchor="start" stroke="#000" stroke-width="0.12">High</text><text transform="translate(574.2,344.5) scale(1,1.07)" font-size="7" font-weight="bold" fill="#000" text-anchor="start" stroke="#000" stroke-width="0.12">Low</text><path d="M478.8,338.8 L574,344.8 L478.8,345.5 Z" fill="url(#wedge)"/><g transform="translate(488.2,366.3)"><circle r="17.2" fill="none" stroke="#1a1a1a" stroke-width="1.15" stroke-dasharray="3 1.5"/><g transform="scale(0.94)"><path d="M-8.6,-3.6 Q-4.6,-3.6 -1,-10" fill="none" stroke="#9d9ac2" stroke-width="5.8" stroke-linecap="round" opacity="0.45"/><path d="M-8.6,-3.6 Q-4.6,-3.6 -1,-10" fill="none" stroke="#7a77a8" stroke-width="5" stroke-linecap="round"/><path d="M-8.6,-3.6 Q-4.6,-3.6 -1,-10" fill="none" stroke="#9c99c0" stroke-width="3" stroke-linecap="round"/><path d="M-8.6,-3.6 Q-4.6,-3.6 -1,-10" fill="none" stroke="#c0bdd8" stroke-width="1" stroke-linecap="round"/><path d="M4.8,-7 Q5.8,-1.4 12.5,-1" fill="none" stroke="#9d9ac2" stroke-width="5.8" stroke-linecap="round" opacity="0.45"/><path d="M4.8,-7 Q5.8,-1.4 12.5,-1" fill="none" stroke="#7a77a8" stroke-width="5" stroke-linecap="round"/><path d="M4.8,-7 Q5.8,-1.4 12.5,-1" fill="none" stroke="#9c99c0" stroke-width="3" stroke-linecap="round"/><path d="M4.8,-7 Q5.8,-1.4 12.5,-1" fill="none" stroke="#c0bdd8" stroke-width="1" stroke-linecap="round"/><path d="M-11.8,5 Q-6.15,0.5 0.5,4.1" fill="none" stroke="#6a9ad8" stroke-width="4" stroke-linecap="round" opacity="0.4"/><path d="M-11.8,5 Q-6.15,0.5 0.5,4.1" fill="none" stroke="#2f60b2" stroke-width="3.4" stroke-linecap="round"/><path d="M-11.8,5 Q-6.15,0.5 0.5,4.1" fill="none" stroke="#7aa3dd" stroke-width="2.8" stroke-dasharray="0.7 0.9"/><path d="M-5,9.5 Q-0.65,12.8 7.9,10.9" fill="none" stroke="#6a9ad8" stroke-width="4" stroke-linecap="round" opacity="0.4"/><path d="M-5,9.5 Q-0.65,12.8 7.9,10.9" fill="none" stroke="#2f60b2" stroke-width="3.4" stroke-linecap="round"/><path d="M-5,9.5 Q-0.65,12.8 7.9,10.9" fill="none" stroke="#7aa3dd" stroke-width="2.8" stroke-dasharray="0.7 0.9"/></g></g><g transform="translate(526.1,365.7)"><circle r="17.2" fill="none" stroke="#1a1a1a" stroke-width="1.15" stroke-dasharray="3 1.5"/><g transform="scale(0.94)"><path d="M-5.3,-12.2 Q0.7,-7.95 8,-10.6" fill="none" stroke="#6a9ad8" stroke-width="4" stroke-linecap="round" opacity="0.4"/><path d="M-5.3,-12.2 Q0.7,-7.95 8,-10.6" fill="none" stroke="#2f60b2" stroke-width="3.4" stroke-linecap="round"/><path d="M-5.3,-12.2 Q0.7,-7.95 8,-10.6" fill="none" stroke="#7aa3dd" stroke-width="2.8" stroke-dasharray="0.7 0.9"/><path d="M-13.2,1.1 Q-6,-3.95 0.1,-0.8" fill="none" stroke="#6a9ad8" stroke-width="4" stroke-linecap="round" opacity="0.4"/><path d="M-13.2,1.1 Q-6,-3.95 0.1,-0.8" fill="none" stroke="#2f60b2" stroke-width="3.4" stroke-linecap="round"/><path d="M-13.2,1.1 Q-6,-3.95 0.1,-0.8" fill="none" stroke="#7aa3dd" stroke-width="2.8" stroke-dasharray="0.7 0.9"/><path d="M11.2,-5.1 Q5.8,1.2 10.2,7.7" fill="none" stroke="#6a9ad8" stroke-width="4" stroke-linecap="round" opacity="0.4"/><path d="M11.2,-5.1 Q5.8,1.2 10.2,7.7" fill="none" stroke="#2f60b2" stroke-width="3.4" stroke-linecap="round"/><path d="M11.2,-5.1 Q5.8,1.2 10.2,7.7" fill="none" stroke="#7aa3dd" stroke-width="2.8" stroke-dasharray="0.7 0.9"/><path d="M-10.6,7.6 Q-4.25,12.55 2.2,10.1" fill="none" stroke="#6a9ad8" stroke-width="4" stroke-linecap="round" opacity="0.4"/><path d="M-10.6,7.6 Q-4.25,12.55 2.2,10.1" fill="none" stroke="#2f60b2" stroke-width="3.4" stroke-linecap="round"/><path d="M-10.6,7.6 Q-4.25,12.55 2.2,10.1" fill="none" stroke="#7aa3dd" stroke-width="2.8" stroke-dasharray="0.7 0.9"/></g></g><g transform="translate(564,365.9)"><circle r="17.2" fill="none" stroke="#1a1a1a" stroke-width="1.15" stroke-dasharray="3 1.5"/><g transform="scale(0.94)"><path d="M-5,-9 Q-0.05,-14.15 4.7,-10.8" fill="none" stroke="#9d9ac2" stroke-width="5.8" stroke-linecap="round" opacity="0.45"/><path d="M-5,-9 Q-0.05,-14.15 4.7,-10.8" fill="none" stroke="#7a77a8" stroke-width="5" stroke-linecap="round"/><path d="M-5,-9 Q-0.05,-14.15 4.7,-10.8" fill="none" stroke="#9c99c0" stroke-width="3" stroke-linecap="round"/><path d="M-5,-9 Q-0.05,-14.15 4.7,-10.8" fill="none" stroke="#c0bdd8" stroke-width="1" stroke-linecap="round"/><path d="M0.3,1.3 Q6.75,-0.5 11,-6.3" fill="none" stroke="#9d9ac2" stroke-width="5.8" stroke-linecap="round" opacity="0.45"/><path d="M0.3,1.3 Q6.75,-0.5 11,-6.3" fill="none" stroke="#7a77a8" stroke-width="5" stroke-linecap="round"/><path d="M0.3,1.3 Q6.75,-0.5 11,-6.3" fill="none" stroke="#9c99c0" stroke-width="3" stroke-linecap="round"/><path d="M0.3,1.3 Q6.75,-0.5 11,-6.3" fill="none" stroke="#c0bdd8" stroke-width="1" stroke-linecap="round"/><path d="M-10.9,-2.1 Q-11.45,5.8 -4.6,9.7" fill="none" stroke="#9d9ac2" stroke-width="5.8" stroke-linecap="round" opacity="0.45"/><path d="M-10.9,-2.1 Q-11.45,5.8 -4.6,9.7" fill="none" stroke="#7a77a8" stroke-width="5" stroke-linecap="round"/><path d="M-10.9,-2.1 Q-11.45,5.8 -4.6,9.7" fill="none" stroke="#9c99c0" stroke-width="3" stroke-linecap="round"/><path d="M-10.9,-2.1 Q-11.45,5.8 -4.6,9.7" fill="none" stroke="#c0bdd8" stroke-width="1" stroke-linecap="round"/><path d="M3.9,10.3 Q10.1,9.55 13.1,4.7" fill="none" stroke="#9d9ac2" stroke-width="5.8" stroke-linecap="round" opacity="0.45"/><path d="M3.9,10.3 Q10.1,9.55 13.1,4.7" fill="none" stroke="#7a77a8" stroke-width="5" stroke-linecap="round"/><path d="M3.9,10.3 Q10.1,9.55 13.1,4.7" fill="none" stroke="#9c99c0" stroke-width="3" stroke-linecap="round"/><path d="M3.9,10.3 Q10.1,9.55 13.1,4.7" fill="none" stroke="#c0bdd8" stroke-width="1" stroke-linecap="round"/></g></g><text transform="translate(528.2,392.3) scale(1,1.07)" font-size="7.5" font-weight="bold" fill="#1b1f9c" text-anchor="middle" stroke="#1b1f9c" stroke-width="0.12">With plastic-degrading capability</text>
</svg>
</body></html>
